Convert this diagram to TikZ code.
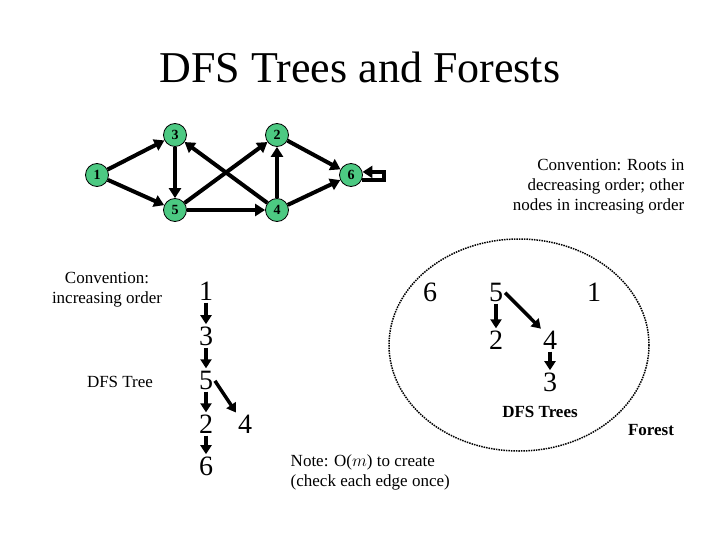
\documentclass[tikz,border=0pt]{standalone}
\usepackage{fontspec}
\setmainfont{Liberation Serif}
\usetikzlibrary{arrows.meta}
\begin{document}
\begin{tikzpicture}[x=1pt, y=-1pt, thick,
    vert/.style = {circle, draw=black, fill=teal!60!green!70, minimum size=23pt, inner sep=0pt, font=\fontsize{14}{14}\selectfont\bfseries},
    edge/.style = {line width=4pt, -{Triangle[length=10pt,width=12pt]}},
    tnum/.style = {inner sep=1pt, font=\fontsize{28}{28}\selectfont},
    tedge/.style = {line width=3.5pt, -{Triangle[length=9pt,width=11pt]}, shorten <=1pt, shorten >=1pt},
    txt/.style = {font=\fontsize{17}{20}\selectfont}]
    \useasboundingbox (0,0) rectangle (720,540);

    \node at (360,67) {\fontsize{44}{44}\selectfont DFS Trees and Forests};

    % graph
    \node[vert] (1) at (97,175)  {1};
    \node[vert] (3) at (175,135) {3};
    \node[vert] (2) at (277,135) {2};
    \node[vert] (6) at (351,175) {6};
    \node[vert] (5) at (175,210) {5};
    \node[vert] (4) at (277,210) {4};
    \draw[edge] (1) -- (3);
    \draw[edge] (1) -- (5);
    \draw[edge] (3) -- (5);
    \draw[edge] (5) -- (2);
    \draw[edge] (4) -- (3);
    \draw[edge] (4) -- (2);
    \draw[edge] (5) -- (4);
    \draw[edge] (2) -- (6);
    \draw[edge] (4) -- (6);
    \draw[edge] (6.-25) -- ++(22,0) |- (6.15);

    \node[txt, align=right, anchor=east] (conv) at (688,187) {Convention: Roots in\\decreasing order; other\\nodes in increasing order};
    \node[txt, align=center] (inc) at (107,290) {Convention:\\increasing order};
    \node[txt] (tree) at (120,382) {DFS Tree};

    % single DFS tree
    \node[tnum] (a1) at (206,291) {1};
    \node[tnum] (a3) at (206,336) {3};
    \node[tnum] (a5) at (206,380) {5};
    \node[tnum] (a2) at (206,424) {2};
    \node[tnum] (a6) at (206,466) {6};
    \node[tnum] (a4) at (245,424) {4};
    \draw[tedge] (a1) -- (a3);
    \draw[tedge] (a3) -- (a5);
    \draw[tedge] (a5) -- (a2);
    \draw[tedge] (a2) -- (a6);
    \draw[tedge] (a5.east) -- (a4.north west);

    \node[txt, align=left, anchor=west] (note) at (287,472) {Note: O($m$) to create\\(check each edge once)};

    % forest
    \draw[densely dotted, line width=1.5pt] (519,345) ellipse (130 and 106);
    \node[tnum] (b6) at (430,292) {6};
    \node[tnum] (b5) at (496,292) {5};
    \node[tnum] (b1) at (594,292) {1};
    \node[tnum] (b2) at (496,340) {2};
    \node[tnum] (b4) at (550,340) {4};
    \node[tnum] (b3) at (550,382) {3};
    \draw[tedge] (b5) -- (b2);
    \draw[tedge] (b5.east) -- (b4.north west);
    \draw[tedge] (b4) -- (b3);
    \node[txt, font=\fontsize{17}{20}\selectfont\bfseries] (trees) at (540,412) {DFS Trees};
    \node[txt, font=\fontsize{17}{20}\selectfont\bfseries] (forest) at (651,430) {Forest};
\end{tikzpicture}
\end{document}
